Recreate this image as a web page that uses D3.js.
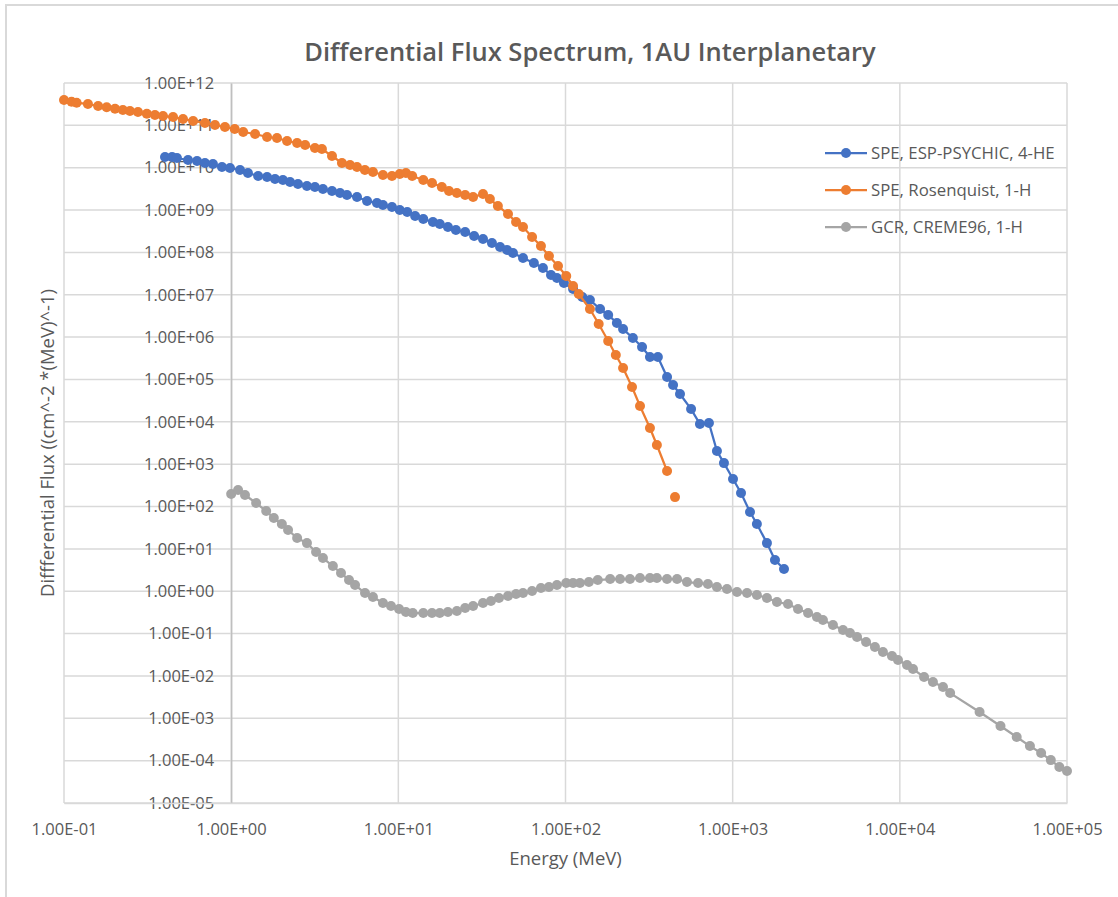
<!DOCTYPE html>
<html>
<head>
<meta charset="utf-8">
<script src="https://cdn.jsdelivr.net/npm/d3@7"></script>
<style>
  body { margin: 0; background: #fff; }
  text { font-family: "Open Sans", sans-serif; fill: #595959; }
</style>
</head>
<body>
<div id="container"></div>
<script>
// series data (Energy MeV, flux)
const blueEnergy = [0.402, 0.443, 0.474, 0.552, 0.625, 0.697, 0.778, 0.881, 0.984, 1.13, 1.26, 1.45, 1.64, 1.83, 2.04, 2.25, 2.51, 2.84, 3.17, 3.54, 4.01, 4.48, 4.93, 5.66, 6.50, 7.45,
  8.09, 9.16, 10.2, 11.3, 12.6, 14.1, 16.1, 17.7, 19.8, 22.1, 25.1, 28.4, 32.1, 36.3, 40.6, 44.7, 48.5, 55.7, 64.7, 73.3, 81.9, 88.9, 97.9, 111, 126, 140, 161, 180, 203, 221, 253, 287,
  320, 357, 405, 440, 484, 564, 637, 721, 805, 887, 1005, 1122, 1270, 1396, 1603, 1791, 2028];
const blueFlux = [1.79e10, 1.79e10, 1.69e10, 1.52e10, 1.44e10, 1.29e10, 1.22e10, 1.04e10, 9.84e9, 8.83e9, 7.50e9, 6.37e9, 6.03e9, 5.41e9, 5.13e9, 4.59e9, 4.12e9, 3.70e9, 3.50e9, 3.14e9, 2.82e9, 2.53e9, 2.27e9, 2.03e9, 1.64e9, 1.47e9,
  1.32e9, 1.18e9, 1.00e9, 8.99e8, 7.24e8, 6.15e8, 5.22e8, 4.69e8, 3.98e8, 3.38e8, 3.03e8, 2.44e8, 2.07e8, 1.67e8, 1.34e8, 1.14e8, 9.68e7, 7.38e7, 5.62e7, 4.29e7, 2.92e7, 2.49e7, 1.89e7, 1.37e7, 8.85e6, 7.52e6, 4.61e6, 3.33e6, 2.15e6, 1.55e6, 9.53e5, 5.83e5,
  3.39e5, 3.39e5, 1.14e5, 7.40e4, 4.53e4, 2.00e4, 8.87e3, 9.37e3, 2.05e3, 1.06e3, 446, 208, 74.1, 38.6, 13.7, 5.46, 3.34];

const orangeEnergy = [0.1, 0.111, 0.119, 0.139, 0.160, 0.180, 0.202, 0.225, 0.248, 0.277, 0.313, 0.350, 0.391, 0.449, 0.515, 0.592, 0.697, 0.80, 0.918, 1.05, 1.18, 1.39, 1.64, 1.88, 2.16, 2.48, 2.77, 3.17, 3.49, 4.01, 4.60, 5.14, 5.66, 6.31, 7.05,
  8.09, 9.16, 10.2, 11.1, 12.1, 14.1, 15.9, 18.2, 20.1, 22.4, 25.1, 28.0, 32.1, 35.3, 39.4, 45.3, 50.6, 55.7, 63.1, 71.3, 79.6, 90.2, 101, 111, 120, 140, 158, 180,
  200, 221, 250, 279, 320, 352, 405, 430, 452];
const orangeFlux = [3.97e11, 3.61e11, 3.43e11, 3.19e11, 2.86e11, 2.67e11, 2.47e11, 2.30e11, 2.18e11, 2.07e11, 1.88e11, 1.75e11, 1.66e11, 1.57e11, 1.41e11, 1.27e11, 1.14e11, 1.02e11, 9.14e10, 8.20e10, 6.97e10, 6.25e10, 5.31e10, 5.02e10, 4.27e10, 3.83e10, 3.44e10, 2.92e10, 2.77e10, 1.89e10, 1.29e10, 1.16e10, 1.04e10, 8.83e9, 7.91e9,
  6.73e9, 6.37e9, 7.10e9, 7.50e9, 6.37e9, 5.13e9, 4.36e9, 3.50e9, 2.82e9, 2.53e9, 2.27e9, 2.03e9, 2.39e9, 1.82e9, 1.25e9, 8.07e8, 5.22e8, 3.98e8, 2.31e8, 1.42e8, 8.22e7, 4.78e7, 2.77e7, 1.61e7, 1.04e7, 4.61e6, 2.04e6, 8.09e5,
  3.78e5, 1.86e5, 6.63e4, 2.36e4, 7.14e3, 2.83e3, 689, null, 167];

const grayEnergy = [1.00, 1.10, 1.21, 1.41, 1.62, 1.80, 2.01, 2.19, 2.48, 2.84, 3.22, 3.54, 4.06, 4.54, 5.07, 5.51, 6.32, 7.05, 8.09, 9.04, 10.1, 11.1, 12.2, 14.1, 15.9, 17.7, 19.8, 22.4, 25.1, 28.0, 32.1, 35.8, 40.0, 45.3, 50.6, 55.7, 63.1, 71.3, 79.6, 88.9, 101, 111, 122, 138, 156,
  185, 212, 243, 279, 320, 352, 405, 465, 533, 621, 711, 805, 925, 1062, 1219, 1396, 1603, 1841, 2143, 2460, 2825, 3192, 3467, 3981, 4571, 5035, 5546, 6281, 7096, 7925, 8974, 9750, 11040, 11990, 13960, 15780, 18120, 20000,
  30000, 40000, 50000, 60000, 70000, 80000, 90000, 100000];
const grayFlux = [197, 245, 187, 121, 78.2, 53.5, 38.6, 27.9, 18.0, 13.7, 8.43, 6.08, 3.94, 2.69, 1.84, 1.40, 0.906, 0.729, 0.526, 0.448, 0.380, 0.323, 0.305, 0.305, 0.305, 0.305, 0.323, 0.340, 0.401, 0.448, 0.526, 0.587, 0.691, 0.771, 0.859, 0.906, 1.01, 1.19, 1.26, 1.40, 1.56, 1.56, 1.56, 1.65, 1.84,
  1.94, 1.94, 1.94, 2.05, 2.05, 2.05, 1.94, 1.94, 1.65, 1.56, 1.48, 1.26, 1.13, 0.957, 0.906, 0.813, 0.691, 0.556, 0.499, 0.380, 0.305, 0.246, 0.209, 0.159, 0.121, 0.103, 0.0830, 0.0632, 0.0481, 0.0366, 0.0295, 0.0237, 0.0181, 0.0146, 0.00942, 0.00718, 0.00547, 0.00394,
  0.00141, 6.56e-4, 3.61e-4, 2.21e-4, 1.51e-4, 1.03e-4, 7.06e-5, 5.68e-5];

const seriesNames = ["SPE, ESP-PSYCHIC, 4-HE", "SPE, Rosenquist, 1-H", "GCR, CREME96, 1-H"];
const xTicks = [1e-1, 1e0, 1e1, 1e2, 1e3, 1e4, 1e5];
const yTicks = [1e-5, 1e-4, 1e-3, 1e-2, 1e-1, 1e0, 1e1, 1e2, 1e3, 1e4, 1e5, 1e6, 1e7, 1e8, 1e9, 1e10, 1e11, 1e12];

const width = 1118;
const height = 897;
const plot = { left: 64, right: 1067, top: 83, bot: 803 };
const colors = ["#4472C4", "#ED7D31", "#A5A5A5"];

const series = [
  blueEnergy.map((e, i) => ({ e: e, f: blueFlux[i] })),
  orangeEnergy.map((e, i) => ({ e: e, f: orangeFlux[i] })),
  grayEnergy.map((e, i) => ({ e: e, f: grayFlux[i] }))
];

const sci = (v) => {
  const exp = Math.round(Math.log10(v));
  const m = v / Math.pow(10, exp);
  const sign = exp < 0 ? "-" : "+";
  return m.toFixed(2) + "E" + sign + String(Math.abs(exp)).padStart(2, "0");
};

const svg = d3.select("#container")
              .append("svg")
              .attr("width", width)
              .attr("height", height);

// chart border (top and left visible)
svg.append("path")
   .attr("d", "M6," + height + "V5H" + width)
   .attr("fill", "none")
   .attr("stroke", "#d9d9d9")
   .attr("stroke-width", 2);

const xScale = d3.scaleLog()
                 .domain([1e-1, 1e5])
                 .range([plot.left, plot.right]);
const yScale = d3.scaleLog()
                 .domain([1e-5, 1e12])
                 .range([plot.bot, plot.top]);

// gridlines
svg.append("g").selectAll("line")
   .data(yTicks)
   .enter()
   .append("line")
   .attr("x1", plot.left)
   .attr("x2", plot.right)
   .attr("y1", (d) => yScale(d))
   .attr("y2", (d) => yScale(d))
   .attr("stroke", "#d9d9d9")
   .attr("stroke-width", 1.5);
svg.append("g").selectAll("line")
   .data(xTicks)
   .enter()
   .append("line")
   .attr("x1", (d) => xScale(d))
   .attr("x2", (d) => xScale(d))
   .attr("y1", plot.top)
   .attr("y2", plot.bot)
   .attr("stroke", "#d9d9d9")
   .attr("stroke-width", 1.5);

// y axis crosses at x = 1
const yAxis = d3.axisLeft(yScale)
                .tickValues(yTicks)
                .tickFormat(sci)
                .tickSize(0)
                .tickPadding(17);
const yg = svg.append("g")
              .attr("transform", "translate(" + xScale(1) + ",0)")
              .call(yAxis);
yg.select(".domain").attr("stroke", "#bfbfbf").attr("stroke-width", 1.5);
yg.selectAll("text").style("font-size", "16.5px").attr("fill", "#595959");

const xAxis = d3.axisBottom(xScale)
                .tickValues(xTicks)
                .tickFormat(sci)
                .tickSize(0)
                .tickPadding(20);
const xg = svg.append("g")
              .attr("transform", "translate(0," + plot.bot + ")")
              .call(xAxis);
xg.select(".domain").attr("stroke", "#d9d9d9").attr("stroke-width", 1.5);
xg.selectAll("text").style("font-size", "16.5px").attr("fill", "#595959");

// series
const line = d3.line()
               .defined((d) => d.f != null)
               .x((d) => xScale(d.e))
               .y((d) => yScale(d.f));
series.forEach((s, i) => {
  svg.append("path")
     .datum(s)
     .attr("d", line)
     .attr("fill", "none")
     .attr("stroke", colors[i])
     .attr("stroke-width", 2.25);
  svg.append("g").selectAll("circle")
     .data(s.filter((d) => d.f != null))
     .enter()
     .append("circle")
     .attr("cx", (d) => xScale(d.e))
     .attr("cy", (d) => yScale(d.f))
     .attr("r", 5)
     .attr("fill", colors[i]);
});

// titles
svg.append("text")
   .text("Differential Flux Spectrum, 1AU Interplanetary")
   .attr("x", 590)
   .attr("y", 61)
   .attr("text-anchor", "middle")
   .style("font-size", "25.5px")
   .style("font-weight", 600);
svg.append("text")
   .text("Energy (MeV)")
   .attr("x", (plot.left + plot.right) / 2)
   .attr("y", 865)
   .attr("text-anchor", "middle")
   .style("font-size", "18.5px");
svg.append("text")
   .text("Diffferential Flux ((cm^-2 *(MeV)^-1)")
   .attr("text-anchor", "middle")
   .attr("transform", "translate(54," + (plot.top + plot.bot) / 2 + ")rotate(270)")
   .style("font-size", "18.5px");

// legend
const legend = svg.append("g")
                  .attr("transform", "translate(825,153)");
seriesNames.forEach((name, i) => {
  const g = legend.append("g").attr("transform", "translate(0," + i * 37 + ")");
  g.append("line")
   .attr("x1", 0).attr("x2", 42)
   .attr("stroke", colors[i])
   .attr("stroke-width", 2.25);
  g.append("circle")
   .attr("cx", 21)
   .attr("r", 5)
   .attr("fill", colors[i]);
  g.append("text")
   .text(name)
   .attr("x", 46)
   .attr("dy", "0.35em")
   .style("font-size", "16.8px");
});
</script>
</body>
</html>
